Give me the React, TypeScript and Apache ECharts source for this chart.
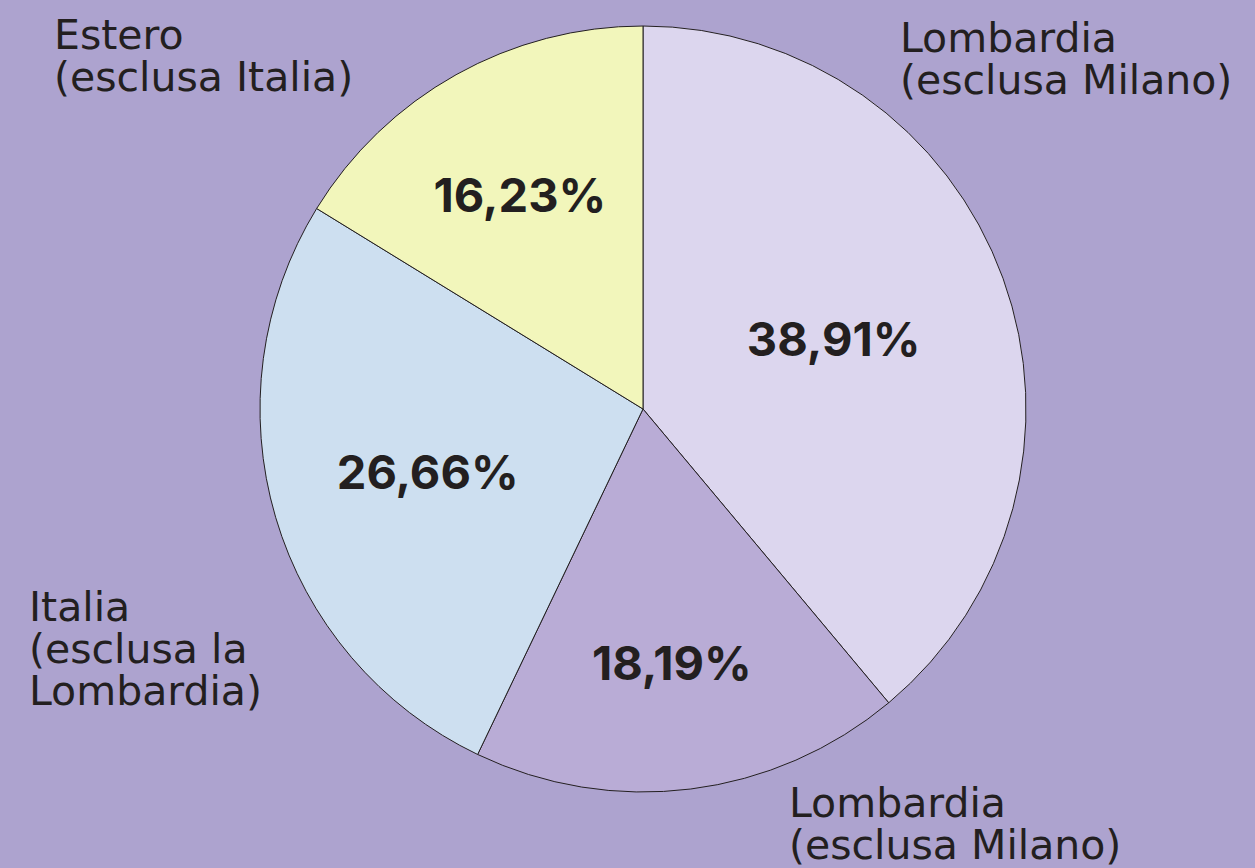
import React, { useEffect, useRef } from "react";
import * as echarts from "echarts";

const categories = [
  "Lombardia (esclusa Milano)",
  "Lombardia (esclusa Milano) 2",
  "Italia (esclusa la Lombardia)",
  "Estero (esclusa Italia)",
];
const values = [38.91, 18.19, 26.66, 16.23];
const sliceColors = ["#dcd6ee", "#b9acd6", "#cddff0", "#f2f6bb"];
const labelRadiusFrac = [0.53, 0.66, 0.57, 0.635];

const outerLabels = [
  { text: "Lombardia\n(esclusa Milano)", x: 900, y: 17 },
  { text: "Lombardia\n(esclusa Milano)", x: 789, y: 782 },
  { text: "Italia\n(esclusa la\nLombardia)", x: 29, y: 586 },
  { text: "Estero\n(esclusa Italia)", x: 54, y: 14 },
];

const CX = 643;
const CY = 409;
const R = 383;
const FONT = "Inter, 'Noto Sans', sans-serif";
const OUTER_FONT = "'DejaVu Sans', Inter, sans-serif";
const INK = "#231f20";

export default function App() {
  const ref = useRef<HTMLDivElement>(null);
  useEffect(() => {
    if (!ref.current) return;
    const chart = echarts.init(ref.current, undefined, { renderer: "svg" });
    const total = values.reduce((a, b) => a + b, 0);
    const mids: number[] = [];
    let acc = 0;
    values.forEach((v) => {
      mids.push(((acc + v / 2) / total) * Math.PI * 2);
      acc += v;
    });
    chart.setOption({
      animation: false,
      backgroundColor: "#ada3cf",
      series: [
        {
          type: "pie",
          center: [CX, CY],
          radius: [0, R],
          startAngle: 90,
          clockwise: true,
          silent: true,
          itemStyle: { borderColor: INK, borderWidth: 1 },
          label: {
            show: true,
            position: "inside",
            fontFamily: FONT,
            fontWeight: "bold",
            fontSize: 47,
            color: INK,
            formatter: (p: any) => p.value.toFixed(2).replace(".", ",") + "%",
          },
          labelLine: { show: false },
          labelLayout: (p: any) => {
            const i = p.dataIndex;
            const a = mids[i];
            const d = (labelRadiusFrac[i] - 0.5) * R;
            return { dx: d * Math.sin(a) - 3, dy: -d * Math.cos(a) };
          },
          data: values.map((v, i) => ({
            name: categories[i],
            value: v,
            itemStyle: { color: sliceColors[i] },
          })),
        },
      ],
      graphic: outerLabels.map((l) => ({
        type: "text",
        left: l.x,
        top: l.y,
        style: {
          text: l.text,
          font: `41px ${OUTER_FONT}`,
          fill: INK,
          lineHeight: 42,
        },
      })),
    });
    return () => chart.dispose();
  }, []);
  return (
    <div
      ref={ref}
      style={{ position: "fixed", left: 0, top: 0, width: 1255, height: 868 }}
    />
  );
}
